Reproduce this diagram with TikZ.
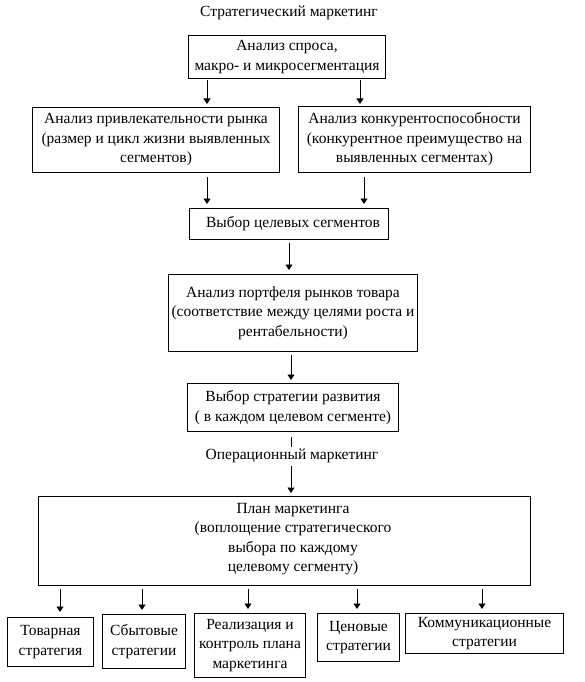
\documentclass[tikz,border=0pt]{standalone}
\usepackage{fontspec}
\setmainfont{Liberation Serif}
\usetikzlibrary{arrows.meta}
\newcommand\dfont{\fontsize{15.5pt}{19.5pt}\selectfont}
\begin{document}
\begin{tikzpicture}[x=1pt,y=-1pt,
  box/.style={draw, line width=1pt, inner sep=0pt, align=center, font=\dfont, anchor=north west},
  txt/.style={inner sep=0pt, align=center, font=\dfont},
  arr/.style={line width=0.9pt, -{Triangle[length=5.5pt,width=7pt]}},
  ln/.style={line width=0.9pt}]
\useasboundingbox (0,0) rectangle (585,682);
\node[txt] (t0) at (289,13) {Стратегический маркетинг};
\node[box, minimum width=197pt, minimum height=43pt] (b1) at (188,35) {Анализ спроса,\\макро- и микросегментация};
\node[box, minimum width=247pt, minimum height=65pt] (b2) at (32,107) {Анализ привлекательности рынка\\(размер и цикл жизни выявленных\\сегментов)};
\node[box, minimum width=232pt, minimum height=66pt] (b3) at (298,106) {Анализ конкурентоспособности\\(конкурентное преимущество на\\выявленных сегментах)};
\node[box, minimum width=199pt, minimum height=31pt] (b4) at (189,208) {\hspace*{8pt}Выбор целевых сегментов};
\node[box, minimum width=249pt, minimum height=77pt] (b5) at (168,274) {Анализ портфеля рынков товара\\(соответствие между целями роста и\\рентабельности)};
\node[box, minimum width=211pt, minimum height=48pt] (b6) at (187,383) {Выбор стратегии развития\\( в каждом целевом сегменте)};
\node[txt] (t1) at (292,456) {Операционный маркетинг};
\node[box, minimum width=492pt, minimum height=89pt] (b7) at (38,496) {};
\node[txt] (b7t) at (293,539) {План маркетинга\\(воплощение стратегического\\выбора по каждому\\целевому сегменту)};
\node[box, minimum width=86pt, minimum height=49pt] (c1) at (7,617) {Товарная\\стратегия};
\node[box, minimum width=83pt, minimum height=54pt] (c2) at (102,614) {Сбытовые\\стратегии};
\node[box, minimum width=111pt, minimum height=64pt] (c3) at (194,613) {Реализация и\\контроль плана\\маркетинга};
\node[box, minimum width=82pt, minimum height=48pt] (c4) at (317,613) {Ценовые\\стратегии};
\node[box, minimum width=158pt, minimum height=40pt] (c5) at (405,613) {Коммуникационные\\стратегии};
% arrow end points
\coordinate (a1s) at (207,80);  \coordinate (a1e) at (207,104);
\coordinate (a2s) at (360,80);  \coordinate (a2e) at (360,104);
\coordinate (a3s) at (207,177); \coordinate (a3e) at (207,204);
\coordinate (a4s) at (364,177); \coordinate (a4e) at (364,204);
\coordinate (a5s) at (289,243); \coordinate (a5e) at (289,270);
\coordinate (a6s) at (291,355); \coordinate (a6e) at (291,380);
\coordinate (l1s) at (291,437); \coordinate (l1e) at (291,447);
\coordinate (a7s) at (291,466); \coordinate (a7e) at (291,493);
\coordinate (d1s) at (60,589);  \coordinate (d1e) at (60,612);
\coordinate (d2s) at (142,589); \coordinate (d2e) at (142,610);
\coordinate (d3s) at (248,589); \coordinate (d3e) at (248,609);
\coordinate (d4s) at (357,589); \coordinate (d4e) at (357,609);
\coordinate (d5s) at (482,589); \coordinate (d5e) at (482,609);
\draw[arr] (a1s) -- (a1e);
\draw[arr] (a2s) -- (a2e);
\draw[arr] (a3s) -- (a3e);
\draw[arr] (a4s) -- (a4e);
\draw[arr] (a5s) -- (a5e);
\draw[arr] (a6s) -- (a6e);
\draw[ln] (l1s) -- (l1e);
\draw[arr] (a7s) -- (a7e);
\draw[arr] (d1s) -- (d1e);
\draw[arr] (d2s) -- (d2e);
\draw[arr] (d3s) -- (d3e);
\draw[arr] (d4s) -- (d4e);
\draw[arr] (d5s) -- (d5e);
\end{tikzpicture}
\end{document}
